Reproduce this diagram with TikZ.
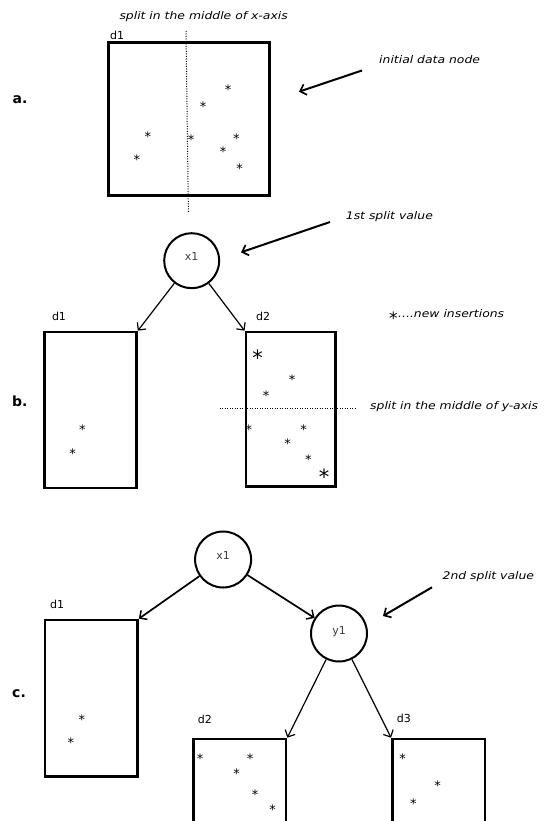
\documentclass[tikz,border=0pt]{standalone}
\usepackage{fontspec}
\setmainfont{DejaVu Sans}
\newfontfamily\annfont{DejaVu Sans}[FakeStretch=1.18]
\usetikzlibrary{arrows.meta}
\tikzset{
  dbox/.style={draw, line width=2.6pt, rectangle, inner sep=0pt},
  cnode/.style={draw, line width=2pt, circle, minimum size=55pt, inner sep=0pt, font=\fontsize{11}{12}\selectfont, text=black!75, text depth=8pt},
  lbl/.style={anchor=base west, inner sep=0pt, font=\fontsize{11}{12}\selectfont},
  ann/.style={anchor=west, inner sep=0pt, font=\annfont\itshape\fontsize{10.5}{12}\selectfont},
  sect/.style={anchor=base west, inner sep=0pt, font=\bfseries\fontsize{14}{16}\selectfont},
  ast/.style={anchor=base, inner sep=0pt, font=\fontsize{13}{14}\selectfont, yshift=-7.4pt},
  bigast/.style={anchor=base, inner sep=0pt, font=\fontsize{21}{22}\selectfont, yshift=-12pt},
  legast/.style={anchor=base, inner sep=0pt, font=\fontsize{17}{18}\selectfont, yshift=-9.7pt},
  thinarr/.style={line width=1.2pt, -{Straight Barb[length=5.5pt,width=11pt,line width=1.2pt]}},
  thickarr/.style={line width=1.7pt, -{Straight Barb[length=5.5pt,width=11pt,line width=1.5pt]}},
  annarr/.style={line width=2pt, -{Straight Barb[length=5.5pt,width=11pt,line width=1.7pt]}},
  dotline/.style={line width=1pt, dash pattern=on 1pt off 1.5pt}
}
\begin{document}
\begin{tikzpicture}[x=1pt,y=-1pt]
\useasboundingbox (0,0) rectangle (543,821);
\clip (0,0) rectangle (543,821);
\fill[white] (0,0) rectangle (543,821);

% ---------- a ----------
\node[sect] (la) at (12.5,104) {a.};
\node[dbox, minimum width=160.6pt, minimum height=152.5pt] (A) at (189,119) {};
\node[lbl] (Ad1) at (110,40) {d1};
\coordinate (vt) at (186,31);
\coordinate (vb) at (188.4,212);
\draw[dotline] (vt) -- (vb);
\node[ann] (tx) at (119.3,17) {split in the middle of x-axis};
\node[ann] (tinit) at (379,60) {initial data node};
\coordinate (ia1) at (362,70.5);
\coordinate (ia2) at (299,91.7);
\draw[annarr] (ia1) -- (ia2);
\foreach \p in {(228.1,87.3),(203.2,104),(147.9,134),(191.2,136.7),(236.4,136),(223,149.3),(136.9,157.3),(239.5,166)}
  \node[ast] at \p {*};

% ---------- b ----------
\node[sect] (lb) at (12,406) {b.};
\node[cnode] (bx1) at (191.7,260.7) {x1};
\node[ann] (t1st) at (345.7,217) {1st split value};
\coordinate (ba1) at (330,222);
\coordinate (ba2) at (241,252.3);
\draw[annarr] (ba1) -- (ba2);
\node[dbox, minimum width=92.3pt, minimum height=156pt] (Bd1) at (90.4,410) {};
\node[dbox, minimum width=89.7pt, minimum height=154.7pt] (Bd2) at (290.7,409.3) {};
\node[lbl] (Bl1) at (51.8,320) {d1};
\node[lbl] (Bl2) at (256,320) {d2};
\draw[thinarr] (bx1) -- (Bd1.north east);
\draw[thinarr] (bx1) -- (Bd2.north west);
\node[legast] (legs) at (393.3,315) {*};
\node[ann] (tnew) at (398,313.5) {....new insertions};
\coordinate (hl) at (219.5,408);
\coordinate (hr) at (356,408);
\draw[dotline] (hl) -- (hr);
\node[ann] (ty) at (370,406.5) {split in the middle of y-axis};
\foreach \p in {(82.3,426.7),(72.6,450.7)}
  \node[ast] at \p {*};
\foreach \p in {(292.1,377.3),(266.2,392.7),(248.9,427.3),(303.5,426.7),(287.6,440.7),(308.3,456.7)}
  \node[ast] at \p {*};
\node[bigast] at (257.5,353.3) {*};
\node[bigast] at (324.2,472.3) {*};

% ---------- c ----------
\node[sect] (lc) at (12,697) {c.};
\node[cnode, minimum size=56pt] (cx1) at (223.1,559.5) {x1};
\node[cnode, minimum size=56pt, text depth=7pt] (cy1) at (339,633.5) {y1};
\node[dbox, minimum width=92.6pt, minimum height=156.7pt] (Cd1) at (91.3,698.3) {};
\node[dbox, minimum width=92.7pt, minimum height=100pt] (Cd2) at (239.7,789) {};
\node[dbox, minimum width=92.7pt, minimum height=100pt] (Cd3) at (438.7,789) {};
\node[lbl] (Cl1) at (50,608) {d1};
\node[lbl] (Cl2) at (197.7,723) {d2};
\node[lbl] (Cl3) at (396.7,722) {d3};
\draw[thickarr] (cx1) -- (Cd1.north east);
\draw[thickarr] (cx1) -- (cy1);
\draw[thinarr] (cy1) -- (Cd2.north east);
\draw[thinarr] (cy1) -- (Cd3.north west);
\node[ann] (t2nd) at (442.5,577) {2nd split value};
\coordinate (ca1) at (432,587.3);
\coordinate (ca2) at (383,616);
\draw[annarr] (ca1) -- (ca2);
\foreach \p in {(81.9,716.7),(70.9,740),(200,756),(250,756),(236.7,770.7),(255,791.7),(272.7,807.3),(402.7,756),(437.7,782.7),(413.3,800.7)}
  \node[ast] at \p {*};
\end{tikzpicture}
\end{document}
